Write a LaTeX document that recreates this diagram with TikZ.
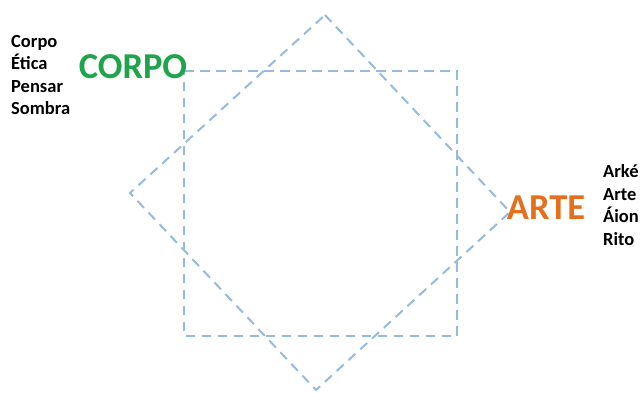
\documentclass[tikz,border=0pt]{standalone}
\usepackage{fontspec}
\setmainfont{Carlito}
\definecolor{dashblue}{RGB}{150,186,224}
\definecolor{corpogreen}{RGB}{30,165,75}
\definecolor{arteorange}{RGB}{228,112,30}
\begin{document}
\begin{tikzpicture}[x=1pt,y=-1pt,
  dline/.style={draw=dashblue,line width=2pt,dash pattern=on 9.5pt off 6.5pt},
  item/.style={anchor=base west,inner sep=0pt,font=\bfseries\fontsize{18.5}{20}\selectfont},
  big/.style={anchor=base,inner sep=0pt,font=\bfseries\fontsize{36.5}{40}\selectfont}]
\useasboundingbox (0,0) rectangle (643,392);
% square
\coordinate (s1) at (184,71);
\coordinate (s2) at (457,71);
\coordinate (s3) at (457,336);
\coordinate (s4) at (184,336);
% rotated square
\coordinate (d1) at (325,15);
\coordinate (d2) at (510,212);
\coordinate (d3) at (316,390);
\coordinate (d4) at (130,193);
\draw[dline] (s1) -- (s2) -- (s3) -- (s4) -- cycle;
\draw[dline] (d1) -- (d2) -- (d3) -- (d4) -- cycle;
% labels
\node[big,text=corpogreen] (corpo) at (133,78) {CORPO};
\node[big,text=arteorange] (arte) at (546,219) {ARTE};
\node[item] (l1) at (11,47) {Corpo};
\node[item] (l2) at (11,69.5) {Ética};
\node[item] (l3) at (11,92) {Pensar};
\node[item] (l4) at (11,114.5) {Sombra};
\node[item] (r1) at (603,177.5) {Arké};
\node[item] (r2) at (603,200) {Arte};
\node[item] (r3) at (603,222.5) {Áion};
\node[item] (r4) at (603,245) {Rito};
\end{tikzpicture}
\end{document}
